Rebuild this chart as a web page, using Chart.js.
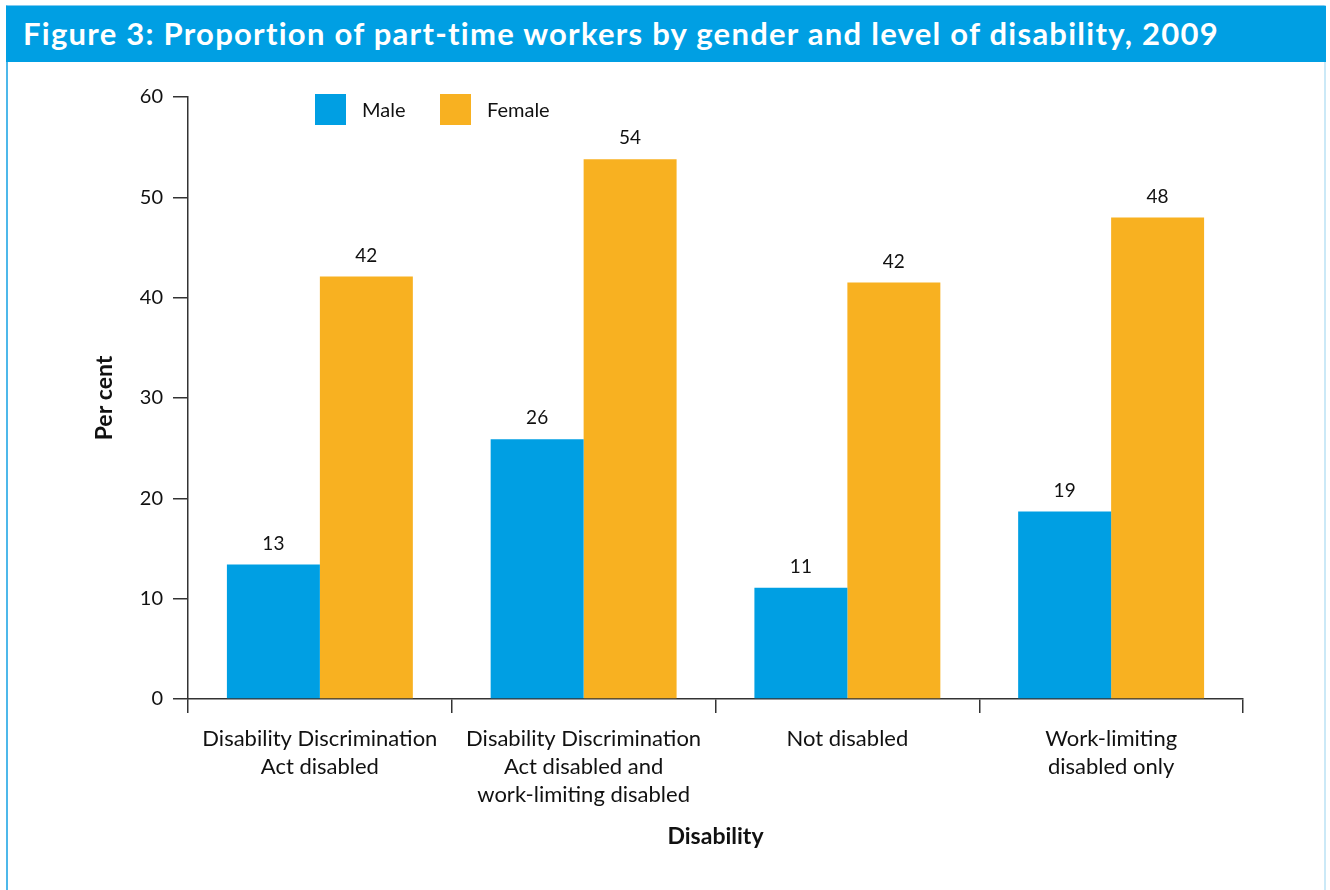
<!DOCTYPE html>
<html>
<head>
<meta charset="utf-8">
<title>Proportion of part-time workers by gender and level of disability, 2009</title>
<script src="https://cdn.jsdelivr.net/npm/chart.js@4/dist/chart.umd.min.js"></script>
<style>
  html, body { margin: 0; padding: 0; background: #ffffff; }
  body { width: 1330px; height: 890px; position: relative; overflow: hidden; font-family: Lato, "Open Sans", sans-serif; }
  .frame { position: absolute; left: 6px; top: 5px; width: 1320px; height: 900px; border-left: 2px solid #4db8ea; border-right: 2px solid #cbe9f7; border-top: 1px solid #7fcaf0; box-sizing: border-box; }
  .titlebar { position: absolute; left: 6px; top: 6px; width: 1320px; height: 56px; background: #009fe3; }
  .titlebar h1 { margin: 0; position: absolute; left: 17px; top: 8px; color: #ffffff; font: bold 31px Lato, "Open Sans", sans-serif; letter-spacing: 1.26px; white-space: nowrap; }
  .plot { position: absolute; left: 0; top: 0; width: 1330px; height: 890px; }
</style>
</head>
<body>
<div class="frame"></div>
<div class="titlebar"><h1>Figure 3: Proportion of part-time workers by gender and level of disability, 2009</h1></div>
<div class="plot"><canvas id="chart" width="1330" height="890"></canvas></div>
<script>
// Disability groups (x categories)
const categories = [
  ['Disability Discrimination', 'Act disabled'],
  ['Disability Discrimination', 'Act disabled and', 'work-limiting disabled'],
  ['Not disabled'],
  ['Work-limiting', 'disabled only']
];

// Share of workers who work part-time, per cent
const maleValues = [13.4, 25.9, 11.1, 18.7];
const femaleValues = [42.1, 53.8, 41.5, 48.0];

const seriesNames = ['Male', 'Female'];
const seriesColors = ['#009fe3', '#f8b121'];

// Value axis ticks
const yTicks = [0, 10, 20, 30, 40, 50, 60];

const FONT = 'Lato, "Open Sans", sans-serif';
const INK = '#111111';
const AXIS = '#333333';

// Writes each bar's value (rounded) above the bar
const valueLabels = {
  id: 'valueLabels',
  afterDatasetsDraw(chart) {
    const ctx = chart.ctx;
    ctx.save();
    ctx.font = '19px ' + FONT;
    ctx.fillStyle = INK;
    ctx.textAlign = 'center';
    ctx.textBaseline = 'middle';
    chart.data.datasets.forEach((ds, i) => {
      chart.getDatasetMeta(i).data.forEach((bar, j) => {
        ctx.fillText(String(Math.round(ds.data[j])), bar.x, bar.y - 21);
      });
    });
    ctx.restore();
  }
};

// Key placed inside the plot, near the top
const insideLegend = {
  id: 'insideLegend',
  afterDraw(chart) {
    const ctx = chart.ctx;
    const area = chart.chartArea;
    const box = 31;
    const starts = [area.left + 127, area.left + 252];
    ctx.save();
    ctx.font = '20px ' + FONT;
    ctx.textAlign = 'left';
    ctx.textBaseline = 'middle';
    chart.data.datasets.forEach((ds, i) => {
      const x = starts[i];
      const y = area.top - 3;
      ctx.fillStyle = ds.backgroundColor;
      ctx.fillRect(x, y, box, box);
      ctx.fillStyle = INK;
      ctx.fillText(ds.label, x + box + 16, y + box / 2 + 1);
    });
    ctx.restore();
  }
};

new Chart(document.getElementById('chart'), {
  type: 'bar',
  data: {
    labels: categories,
    datasets: [
      { label: seriesNames[0], data: maleValues, backgroundColor: seriesColors[0] },
      { label: seriesNames[1], data: femaleValues, backgroundColor: seriesColors[1] }
    ]
  },
  options: {
    responsive: false,
    animation: false,
    devicePixelRatio: 1,
    layout: { padding: { top: 97, right: 87, bottom: 0, left: 0 } },
    datasets: { bar: { categoryPercentage: 0.705, barPercentage: 1.0, borderWidth: 0 } },
    plugins: {
      legend: { display: false },
      tooltip: { enabled: false },
      title: { display: false }
    },
    scales: {
      x: {
        offset: true,
        grid: { offset: true, drawOnChartArea: false, drawTicks: true, tickLength: 14, color: AXIS, lineWidth: 1.5 },
        border: { display: true, color: AXIS, width: 1.5 },
        ticks: { color: INK, font: { family: FONT, size: 22, lineHeight: 1.27 }, padding: 12, maxRotation: 0, autoSkip: false },
        title: { display: true, text: 'Disability', color: INK, font: { family: FONT, size: 23, weight: 'bold', lineHeight: 1.2 }, padding: { top: 0, bottom: 40 } },
        afterFit(scale) { scale.height = 191; }
      },
      y: {
        min: yTicks[0],
        max: yTicks[yTicks.length - 1],
        afterBuildTicks(scale) { scale.ticks = yTicks.map(v => ({ value: v })); },
        grid: { drawOnChartArea: false, drawTicks: true, tickLength: 15, color: AXIS, lineWidth: 1.5 },
        border: { display: true, color: AXIS, width: 1.5 },
        ticks: { color: INK, font: { family: FONT, size: 20 }, padding: 10 },
        title: { display: true, text: 'Per cent', color: INK, font: { family: FONT, size: 23, weight: 'bold', lineHeight: 1.2 }, padding: { top: 91, bottom: 0 } },
        afterFit(scale) { scale.width = 188; }
      }
    }
  },
  plugins: [valueLabels, insideLegend]
});
</script>
</body>
</html>
